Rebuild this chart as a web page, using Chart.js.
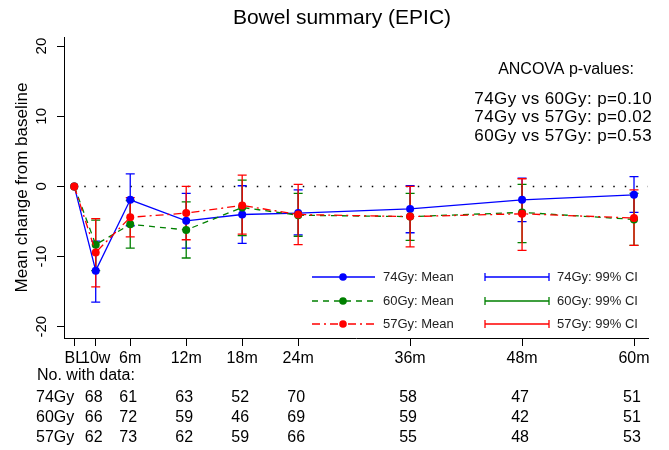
<!DOCTYPE html>
<html>
<head>
<meta charset="utf-8">
<script src="https://cdn.jsdelivr.net/npm/chart.js@4.4.1/dist/chart.umd.min.js"></script>
<style>
  html, body { margin: 0; padding: 0; background: #fff; }
</style>
</head>
<body>
<canvas id="c" width="669" height="450"></canvas>
<script>
// time points (months since baseline) and their labels
const timeLabels = ['BL', '10w', '6m', '12m', '18m', '24m', '36m', '48m', '60m'];
const months = [0, 2.3, 6, 12, 18, 24, 36, 48, 60];
const yTicks = [-20, -10, 0, 10, 20];

// mean change and 99% CI per arm
const mean74 = [0, -12.0, -1.9, -4.9, -4.0, -3.8, -3.2, -1.9, -1.2];
const lo74   = [null, -16.5, -5.6, -8.8, -8.1, -6.9, -6.6, -5.0, -3.7];
const hi74   = [null, -7.8, 1.8, -1.0, 0.1, -0.5, 0.1, 1.2, 1.4];

const mean60 = [0, -8.3, -5.4, -6.2, -3.0, -4.1, -4.3, -3.7, -4.7];
const lo60   = [null, -12.0, -8.8, -10.2, -7.0, -7.1, -7.7, -8.0, -8.4];
const hi60   = [null, -4.8, -2.0, -2.2, 0.9, -1.0, -1.0, 0.3, -1.0];

const mean57 = [0, -9.4, -4.4, -3.8, -2.7, -4.0, -4.3, -3.9, -4.5];
const lo57   = [null, -14.3, -7.2, -7.6, -6.8, -8.3, -8.6, -9.1, -8.4];
const hi57   = [null, -4.6, -1.6, 0.0, 1.6, 0.3, 0.0, 1.1, -0.5];

// numbers with data, 10w to 60m
const n74 = [68, 61, 63, 52, 70, 58, 47, 51];
const n60 = [66, 72, 59, 46, 69, 59, 42, 51];
const n57 = [62, 73, 62, 59, 66, 55, 48, 53];

const chartTitle = 'Bowel summary (EPIC)';
const pvalTitle = 'ANCOVA p-values:';
const pvalLines = ['74Gy vs 60Gy: p=0.10', '74Gy vs 57Gy: p=0.02', '60Gy vs 57Gy: p=0.53'];

const FONT = '"Liberation Sans", Arial, sans-serif';
Chart.defaults.font.family = FONT;
Chart.defaults.color = '#000';

const series = [
  { name: '74Gy', mean: mean74, lo: lo74, hi: hi74, n: n74, color: '#0000ff', dash: [] },
  { name: '60Gy', mean: mean60, lo: lo60, hi: hi60, n: n60, color: '#008000', dash: [6, 5] },
  { name: '57Gy', mean: mean57, lo: lo57, hi: hi57, n: n57, color: '#ff0000', dash: [8, 4, 2, 4] }
];

// error bars, zero line, title, p-values, legend and the numbers table
const extras = {
  id: 'extras',
  beforeDatasetsDraw(chart) {
    const { ctx, chartArea: a, scales: { x, y } } = chart;
    ctx.save();
    const y0 = y.getPixelForValue(0);
    ctx.strokeStyle = '#000';
    ctx.lineWidth = 1.5;
    ctx.setLineDash([1.5, 10]);
    ctx.beginPath();
    ctx.moveTo(x.getPixelForValue(months[0]) + 10, y0);
    ctx.lineTo(a.right, y0);
    ctx.stroke();
    ctx.setLineDash([]);

    series.forEach(s => {
      ctx.strokeStyle = s.color;
      ctx.lineWidth = 1.3;
      months.forEach((m, i) => {
        if (s.lo[i] == null) return;
        const px = x.getPixelForValue(m);
        const y1 = y.getPixelForValue(s.lo[i]);
        const y2 = y.getPixelForValue(s.hi[i]);
        ctx.beginPath();
        ctx.moveTo(px, y1); ctx.lineTo(px, y2);
        ctx.moveTo(px - 4.5, y1); ctx.lineTo(px + 4.5, y1);
        ctx.moveTo(px - 4.5, y2); ctx.lineTo(px + 4.5, y2);
        ctx.stroke();
      });
    });
    ctx.restore();
  },
  afterDraw(chart) {
    const { ctx, scales: { x } } = chart;
    ctx.save();
    ctx.fillStyle = '#000';
    ctx.textBaseline = 'middle';

    // title
    ctx.font = '21px ' + FONT;
    ctx.textAlign = 'center';
    ctx.fillText(chartTitle, 342, 18);

    // p-values
    ctx.font = '16px ' + FONT;
    ctx.fillText(pvalTitle, 566, 70);
    ctx.textAlign = 'right';
    ctx.font = '17px ' + FONT;
    ctx.letterSpacing = '0.4px';
    pvalLines.forEach((t, i) => ctx.fillText(t, 652, 99 + i * 18.7));
    ctx.letterSpacing = '0px';

    // legend
    const rows = [277, 301, 324];
    ctx.font = '13px ' + FONT;
    series.forEach((s, r) => {
      const ly = rows[r];
      ctx.strokeStyle = s.color;
      ctx.fillStyle = s.color;
      ctx.lineWidth = 1.3;
      ctx.setLineDash(s.dash);
      ctx.beginPath(); ctx.moveTo(312, ly); ctx.lineTo(375, ly); ctx.stroke();
      ctx.setLineDash([]);
      ctx.beginPath(); ctx.arc(343, ly, 3.8, 0, Math.PI * 2); ctx.fill();
      ctx.beginPath();
      ctx.moveTo(485, ly); ctx.lineTo(549, ly);
      ctx.moveTo(485, ly - 4); ctx.lineTo(485, ly + 4);
      ctx.moveTo(549, ly - 4); ctx.lineTo(549, ly + 4);
      ctx.stroke();
      ctx.fillStyle = '#222';
      ctx.textAlign = 'left';
      ctx.fillText(s.name + ': Mean', 383, ly);
      ctx.fillText(s.name + ': 99% CI', 557, ly);
    });

    // numbers with data
    ctx.fillStyle = '#000';
    ctx.font = '16px ' + FONT;
    ctx.textAlign = 'left';
    ctx.fillText('No. with data:', 37, 376);
    series.forEach((s, r) => {
      const ry = 398 + r * 20;
      ctx.textAlign = 'left';
      ctx.fillText(s.name, 36, ry);
      ctx.textAlign = 'center';
      s.n.forEach((v, i) => ctx.fillText(String(v), x.getPixelForValue(months[i + 1]) - 2, ry));
    });
    ctx.restore();
  }
};

const datasets = series.slice().reverse().map(s => ({
  label: s.name,
  data: months.map((m, i) => ({ x: m, y: s.mean[i] })),
  borderColor: s.color,
  backgroundColor: s.color,
  borderWidth: 1.3,
  borderDash: s.dash,
  pointRadius: 4,
  pointBorderWidth: 0,
  pointBackgroundColor: s.color,
  showLine: true,
  tension: 0
}));

new Chart(document.getElementById('c'), {
  type: 'line',
  data: { datasets },
  options: {
    responsive: false,
    animation: false,
    layout: { padding: { left: 0, right: 21, top: 37, bottom: 82 } },
    plugins: {
      legend: { display: false },
      tooltip: { enabled: false },
      title: { display: false }
    },
    scales: {
      x: {
        type: 'linear',
        min: -1.1,
        max: 61.5,
        afterBuildTicks: s => { s.ticks = months.map(v => ({ value: v })); },
        afterFit: s => { s.height = 30; },
        ticks: {
          autoSkip: false,
          maxRotation: 0,
          minRotation: 0,
          padding: 3,
          color: '#000',
          font: { size: 16 },
          callback: (v, i) => timeLabels[i]
        },
        grid: { drawOnChartArea: false, drawTicks: true, tickLength: 8, color: '#000' },
        border: { display: true, color: '#000', width: 1 }
      },
      y: {
        type: 'linear',
        min: -21.6,
        max: 21.3,
        afterBuildTicks: s => { s.ticks = yTicks.map(v => ({ value: v })); },
        afterFit: s => { s.width = 64; },
        ticks: {
          minRotation: 90,
          maxRotation: 90,
          crossAlign: 'center',
          padding: 4,
          color: '#000',
          font: { size: 15 }
        },
        grid: { drawOnChartArea: false, drawTicks: true, tickLength: 7, color: '#000' },
        border: { display: true, color: '#000', width: 1 },
        title: {
          display: true,
          text: 'Mean change from baseline',
          color: '#000',
          font: { size: 17 },
          padding: { top: 12, bottom: 0 }
        }
      }
    }
  },
  plugins: [extras]
});
</script>
</body>
</html>
